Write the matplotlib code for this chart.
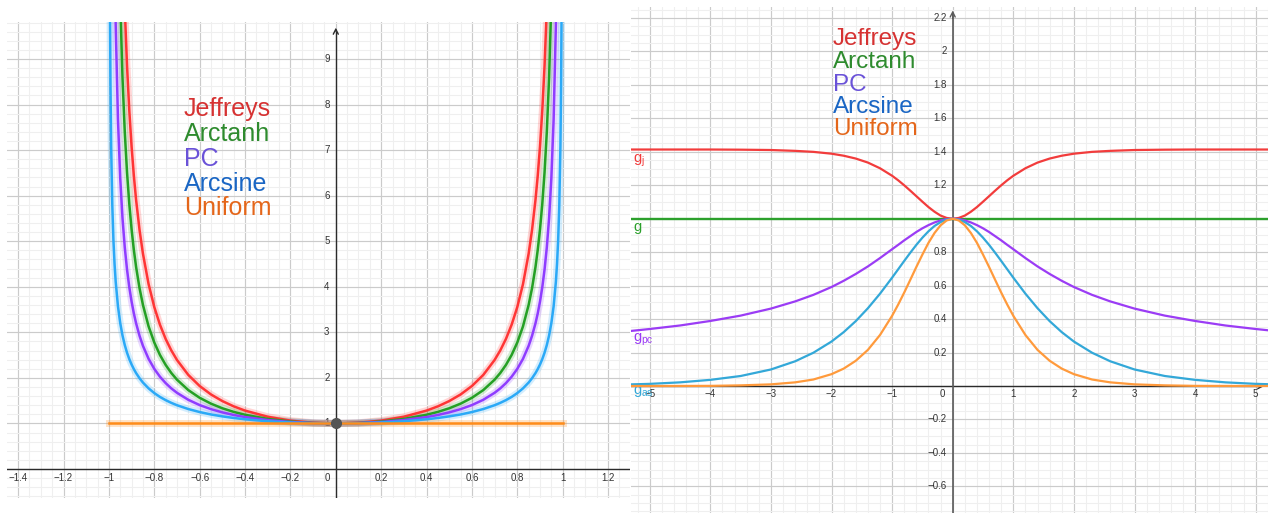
import matplotlib
matplotlib.use("Agg")
import matplotlib.pyplot as plt
from matplotlib.ticker import MultipleLocator

plt.rcParams['font.family'] = ['Liberation Sans', 'DejaVu Sans']
plt.rcParams['mathtext.default'] = 'regular'

# ---------------------------------------------------------------
# Left panel: prior densities on the correlation scale rho
# ---------------------------------------------------------------
rho = [-0.995, -0.993, -0.99, -0.985, -0.98, -0.975, -0.97, -0.96, -0.95, -0.94,
       -0.93, -0.92, -0.91, -0.9, -0.89, -0.88, -0.865, -0.85, -0.825, -0.8,
       -0.775, -0.75, -0.725, -0.7, -0.65, -0.6, -0.55, -0.5, -0.45, -0.4, -0.3,
       -0.2, -0.1, 0.0,
       0.1, 0.2, 0.3, 0.4, 0.45, 0.5, 0.55, 0.6, 0.65, 0.7, 0.725, 0.75, 0.775,
       0.8, 0.825, 0.85, 0.865, 0.88, 0.89, 0.9, 0.91, 0.92, 0.93, 0.94, 0.95,
       0.96, 0.97, 0.975, 0.98, 0.985, 0.99, 0.993, 0.995]
jeffreys_rho = [141.4, 101.0, 70.71, 47.14, 35.36, 28.29, 23.57, 17.68, 14.15, 11.79,
                10.11, 8.847, 7.866, 7.081, 6.439, 5.905, 5.252, 4.730, 4.059, 3.557,
                3.168, 2.857, 2.604, 2.394, 2.065, 1.822, 1.636, 1.491, 1.375, 1.282,
                1.147, 1.062, 1.015, 1.0,
                1.015, 1.062, 1.147, 1.282, 1.375, 1.491, 1.636, 1.822, 2.065, 2.394,
                2.604, 2.857, 3.168, 3.557, 4.059, 4.730, 5.252, 5.905, 6.439, 7.081,
                7.866, 8.847, 10.11, 11.79, 14.15, 17.68, 23.57, 28.29, 35.36, 47.14,
                70.71, 101.0, 141.4]
arctanh_rho = [100.3, 71.68, 50.25, 33.59, 25.25, 20.25, 16.92, 12.76, 10.26, 8.591,
               7.402, 6.510, 5.817, 5.263, 4.810, 4.433, 3.972, 3.604, 3.131, 2.778,
               2.504, 2.286, 2.108, 1.961, 1.732, 1.563, 1.434, 1.333, 1.254, 1.190,
               1.099, 1.042, 1.010, 1.0,
               1.010, 1.042, 1.099, 1.190, 1.254, 1.333, 1.434, 1.563, 1.732, 1.961,
               2.108, 2.286, 2.504, 2.778, 3.131, 3.604, 3.972, 4.433, 4.810, 5.263,
               5.817, 6.510, 7.402, 8.591, 10.26, 12.76, 16.92, 20.25, 25.25, 33.59,
               50.25, 71.68, 100.3]
pc_rho = [46.47, 34.44, 25.14, 17.65, 13.77, 11.39, 9.759, 7.674, 6.386, 5.507,
          4.865, 4.376, 3.989, 3.676, 3.416, 3.197, 2.925, 2.705, 2.418, 2.199,
          2.026, 1.886, 1.770, 1.673, 1.519, 1.403, 1.314, 1.243, 1.186, 1.140,
          1.074, 1.031, 1.008, 1.0,
          1.008, 1.031, 1.074, 1.140, 1.186, 1.243, 1.314, 1.403, 1.519, 1.673,
          1.770, 1.886, 2.026, 2.199, 2.418, 2.705, 2.925, 3.197, 3.416, 3.676,
          3.989, 4.376, 4.865, 5.507, 6.386, 7.674, 9.759, 11.39, 13.77, 17.65,
          25.14, 34.44, 46.47]
arcsine_rho = [10.01, 8.466, 7.089, 5.795, 5.025, 4.500, 4.113, 3.571, 3.203, 2.931,
               2.721, 2.552, 2.412, 2.294, 2.193, 2.105, 1.993, 1.898, 1.770, 1.667,
               1.582, 1.512, 1.452, 1.400, 1.316, 1.250, 1.197, 1.155, 1.120, 1.091,
               1.048, 1.021, 1.005, 1.0,
               1.005, 1.021, 1.048, 1.091, 1.120, 1.155, 1.197, 1.250, 1.316, 1.400,
               1.452, 1.512, 1.582, 1.667, 1.770, 1.898, 1.993, 2.105, 2.193, 2.294,
               2.412, 2.552, 2.721, 2.931, 3.203, 3.571, 4.113, 4.500, 5.025, 5.795,
               7.089, 8.466, 10.01]
rho_uniform = [-1.0, 1.0]
uniform_rho = [1.0, 1.0]

# ---------------------------------------------------------------
# Right panel: the same priors on the z = arctanh(rho) scale
# ---------------------------------------------------------------
z = [-5.4, -5.0, -4.5, -4.0, -3.5, -3.0, -2.6, -2.3, -2.0, -1.8, -1.6, -1.4, -1.2,
     -1.0, -0.9, -0.8, -0.7, -0.6, -0.5, -0.4, -0.3, -0.2, -0.1, 0.0,
     0.1, 0.2, 0.3, 0.4, 0.5, 0.6, 0.7, 0.8, 0.9, 1.0, 1.2, 1.4, 1.6, 1.8, 2.0,
     2.3, 2.6, 3.0, 3.5, 4.0, 4.5, 5.0, 5.4]
g_j = [1.414, 1.414, 1.414, 1.414, 1.413, 1.411, 1.406, 1.400, 1.389, 1.377, 1.360,
       1.336, 1.302, 1.257, 1.230, 1.200, 1.168, 1.135, 1.102, 1.070, 1.042, 1.019,
       1.005, 1.0,
       1.005, 1.019, 1.042, 1.070, 1.102, 1.135, 1.168, 1.200, 1.230, 1.257, 1.302,
       1.336, 1.360, 1.377, 1.389, 1.400, 1.406, 1.411, 1.413, 1.414, 1.414, 1.414,
       1.414]
g_pc = [0.326, 0.341, 0.362, 0.389, 0.421, 0.463, 0.506, 0.545, 0.592, 0.629, 0.670,
        0.715, 0.765, 0.818, 0.844, 0.871, 0.896, 0.921, 0.943, 0.962, 0.978, 0.990,
        0.998, 1.0,
        0.998, 0.990, 0.978, 0.962, 0.943, 0.921, 0.896, 0.871, 0.844, 0.818, 0.765,
        0.715, 0.670, 0.629, 0.592, 0.545, 0.506, 0.463, 0.421, 0.389, 0.362, 0.341,
        0.326]
g_as = [0.009, 0.013, 0.022, 0.037, 0.060, 0.099, 0.148, 0.199, 0.266, 0.322, 0.388,
        0.465, 0.552, 0.648, 0.698, 0.748, 0.797, 0.844, 0.887, 0.925, 0.957, 0.980,
        0.995, 1.0,
        0.995, 0.980, 0.957, 0.925, 0.887, 0.844, 0.797, 0.748, 0.698, 0.648, 0.552,
        0.465, 0.388, 0.322, 0.266, 0.199, 0.148, 0.099, 0.060, 0.037, 0.022, 0.013,
        0.009]
g_u = [0.0001, 0.0002, 0.0005, 0.001, 0.004, 0.010, 0.022, 0.039, 0.071, 0.104, 0.151,
       0.216, 0.305, 0.420, 0.487, 0.559, 0.635, 0.712, 0.786, 0.856, 0.915, 0.961,
       0.990, 1.0,
       0.990, 0.961, 0.915, 0.856, 0.786, 0.712, 0.635, 0.559, 0.487, 0.420, 0.305,
       0.216, 0.151, 0.104, 0.071, 0.039, 0.022, 0.010, 0.004, 0.001, 0.0005, 0.0002,
       0.0001]
z_flat = [-5.4, 5.4]
g_flat = [1.0, 1.0]

legend_names = ["Jeffreys", "Arctanh", "PC", "Arcsine", "Uniform"]
legend_colors = ["#d63232", "#2e8b2e", "#6a52d8", "#1a66c4", "#e4661a"]

left_xticks = [-1.4, -1.2, -1.0, -0.8, -0.6, -0.4, -0.2, 0.2, 0.4, 0.6, 0.8, 1.0, 1.2]
left_yticks = [1, 2, 3, 4, 5, 6, 7, 8, 9]
right_xticks = [-5, -4, -3, -2, -1, 1, 2, 3, 4, 5]
right_yticks = [-0.6, -0.4, -0.2, 0.2, 0.4, 0.6, 0.8, 1.2, 1.4, 1.6, 1.8, 2.0, 2.2]

W, H = 1268, 513
fig = plt.figure(figsize=(W / 100, H / 100), dpi=100)
fig.patch.set_facecolor("white")


def fig_box(x0, y0, x1, y1):
    return [x0 / W, 1 - y1 / H, (x1 - x0) / W, (y1 - y0) / H]


def fmt(v):
    s = f"{v:g}"
    return s.replace("-", "\u2212")


TICK_COLOR = "#333333"
TICK_SIZE = 7


def geo_axes(box, xlim, ylim, xmaj, xmin_, ymaj, ymin_):
    ax = fig.add_axes(box)
    ax.set_xlim(*xlim)
    ax.set_ylim(*ylim)
    ax.xaxis.set_major_locator(MultipleLocator(xmaj))
    ax.xaxis.set_minor_locator(MultipleLocator(xmin_))
    ax.yaxis.set_major_locator(MultipleLocator(ymaj))
    ax.yaxis.set_minor_locator(MultipleLocator(ymin_))
    ax.grid(which="minor", color="#efefef", lw=0.75)
    ax.grid(which="major", color="#cbcbcb", lw=0.85)
    ax.set_axisbelow(True)
    ax.tick_params(which="both", length=0, labelbottom=False, labelleft=False)
    for s in ax.spines.values():
        s.set_visible(False)
    return ax


# ---------------- left panel ----------------
axL = geo_axes(fig_box(7, 22, 630, 498), (-1.449, 1.2966), (-0.637, 9.813),
               0.2, 0.05, 1, 0.2)
axL.axhline(0, color="#2b2b2b", lw=1.0, zorder=2)
axL.plot([0, 0], [-0.637, 9.60], color="#2b2b2b", lw=1.0, zorder=2)
axL.annotate("", xy=(0, 9.75), xytext=(0, 9.55),
             arrowprops=dict(arrowstyle="->", color="#2b2b2b", lw=1.0,
                             mutation_scale=9), zorder=2)
for v in left_xticks:
    axL.annotate(fmt(v), (v, 0), xytext=(0, -6.8), textcoords="offset points",
                 ha="center", va="center", fontsize=TICK_SIZE, color=TICK_COLOR)
axL.annotate("0", (0, 0), xytext=(-6.3, -6.8), textcoords="offset points",
             ha="center", va="center", fontsize=TICK_SIZE, color=TICK_COLOR)
for v in left_yticks:
    axL.annotate(fmt(v), (0, v), xytext=(-4.5, 0), textcoords="offset points",
                 ha="right", va="center", fontsize=TICK_SIZE, color=TICK_COLOR)

left_curves = [
    (rho, jeffreys_rho, "#ff3535"),
    (rho, arctanh_rho, "#24a024"),
    (rho, pc_rho, "#8f3cff"),
    (rho, arcsine_rho, "#2aa9f7"),
]
for xs, ys, c in left_curves:
    axL.plot(xs, ys, color=c, lw=5.0, alpha=0.2, solid_joinstyle="round",
             solid_capstyle="round", zorder=3)
    axL.plot(xs, ys, color=c, lw=1.8, solid_joinstyle="round", zorder=3.2)
axL.plot(rho_uniform, uniform_rho, color="#ff8c1a", lw=5.0, alpha=0.25, zorder=3)
axL.plot(rho_uniform, uniform_rho, color="#ff8c1a", lw=1.8, zorder=3.3)
axL.plot([0], [1], "o", color="#555555", ms=7, zorder=5)

# ---------------- right panel ----------------
axR = geo_axes(fig_box(631, 7, 1268, 513), (-5.309, 5.203), (-0.759, 2.266),
               1, 0.2, 0.2, 0.05)
axR.plot([-5.309, 5.05], [0, 0], color="#2b2b2b", lw=1.0, zorder=2)
axR.annotate("", xy=(5.19, 0), xytext=(4.95, 0),
             arrowprops=dict(arrowstyle="->", color="#2b2b2b", lw=1.0,
                             mutation_scale=9), zorder=2)
axR.plot([0, 0], [-0.759, 2.22], color="#5a5a5a", lw=1.2, zorder=2)
axR.annotate("", xy=(0, 2.262), xytext=(0, 2.18),
             arrowprops=dict(arrowstyle="->", color="#5a5a5a", lw=1.0,
                             mutation_scale=9), zorder=2)
for v in right_xticks:
    axR.annotate(fmt(v), (v, 0), xytext=(0, -6.0), textcoords="offset points",
                 ha="center", va="center", fontsize=TICK_SIZE, color=TICK_COLOR)
axR.annotate("0", (0, 0), xytext=(-7.2, -6.0), textcoords="offset points",
             ha="center", va="center", fontsize=TICK_SIZE, color=TICK_COLOR)
for v in right_yticks:
    axR.annotate(fmt(v), (0, v), xytext=(-4.3, 0), textcoords="offset points",
                 ha="right", va="center", fontsize=TICK_SIZE, color=TICK_COLOR)

axR.plot(z_flat, g_flat, color="#2ca02c", lw=1.7, zorder=3)
axR.plot(z, g_j, color="#f23c3c", lw=1.6, solid_joinstyle="round", zorder=3.1)
axR.plot(z, g_pc, color="#9b3cf5", lw=1.6, solid_joinstyle="round", zorder=3.1)
axR.plot(z, g_as, color="#33a8d8", lw=1.6, solid_joinstyle="round", zorder=3.1)
axR.plot(z, g_u, color="#ff9a3c", lw=1.6, solid_joinstyle="round", zorder=3.2)

# function labels near the left edge of the right panel
axR.text(-5.27, 1.345, "g$_j$", color="#f23c3c", fontsize=10.5, va="center", ha="left")
axR.text(-5.27, 0.95, "g", color="#2ca02c", fontsize=10.5, va="center", ha="left")
axR.text(-5.27, 0.275, "g$_{pc}$", color="#9b3cf5", fontsize=10.5, va="center", ha="left")
axR.text(-5.27, -0.035, "g$_{as}$", color="#33a8d8", fontsize=10.5, va="center", ha="left")

# ---------------- name lists ----------------
left_baselines = [116, 141, 166, 191, 215]
for name, col, yb in zip(legend_names, legend_colors, left_baselines):
    fig.text(184 / W, 1 - yb / H, name, color=col, fontsize=18, va="baseline", ha="left")
right_baselines = [45, 68, 91, 113, 135]
for name, col, yb in zip(legend_names, legend_colors, right_baselines):
    fig.text(833 / W, 1 - yb / H, name, color=col, fontsize=17.5, va="baseline", ha="left")

fig.savefig("out.png", dpi=100, facecolor="white")
